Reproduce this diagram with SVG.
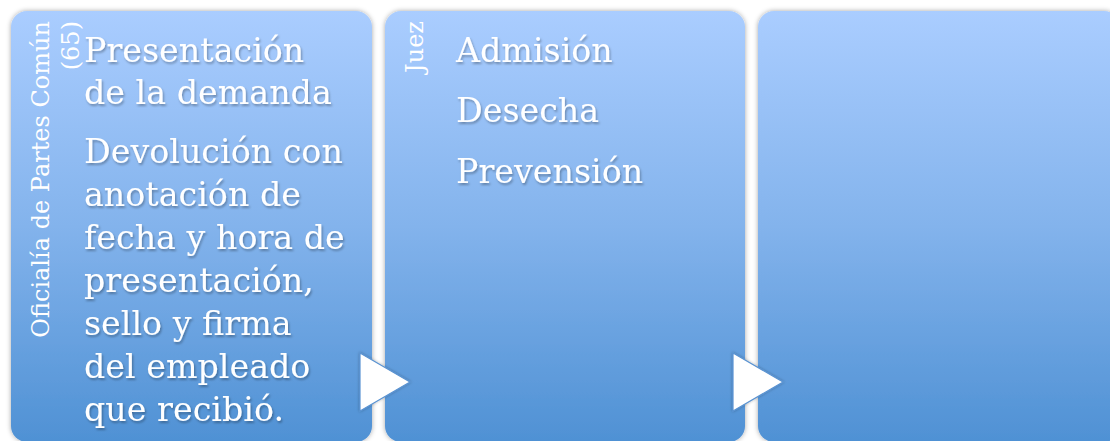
<svg xmlns="http://www.w3.org/2000/svg" width="1110" height="441" viewBox="0 0 1110 441">
  <defs>
    <linearGradient id="boxGrad" x1="0" y1="0" x2="0" y2="1">
      <stop offset="0" stop-color="#aacdff"/>
      <stop offset="0.5" stop-color="#83b3ec"/>
      <stop offset="1" stop-color="#4f91d4"/>
    </linearGradient>
    <filter id="boxShadow" x="-5%" y="-5%" width="110%" height="110%">
      <feDropShadow dx="0" dy="0" stdDeviation="2.5" flood-color="#000" flood-opacity="0.35"/>
    </filter>
    <filter id="textShadow" x="-10%" y="-20%" width="120%" height="150%">
      <feDropShadow dx="1.2" dy="2" stdDeviation="1.3" flood-color="#000" flood-opacity="0.3"/>
    </filter>
    <filter id="arrowShadow" x="-20%" y="-20%" width="140%" height="140%">
      <feDropShadow dx="0" dy="0" stdDeviation="1.5" flood-color="#000" flood-opacity="0.3"/>
    </filter>
  </defs>
  <style>
    .box { fill: url(#boxGrad); filter: url(#boxShadow); }
    .main { font-family: "DejaVu Serif", "Liberation Serif", serif; font-size: 33.3px; fill: #ffffff; filter: url(#textShadow); }
    .side { font-family: "DejaVu Serif", "Liberation Serif", serif; font-size: 24px; fill: #ffffff; }
    .arrow { fill: #ffffff; stroke: #5a93d2; stroke-width: 1.2; filter: url(#arrowShadow); }
  </style>
  <rect width="1110" height="441" fill="#ffffff"/>

  <g id="node1">
    <rect class="box" x="11" y="11" width="361" height="431" rx="16" ry="16"/>
    <g transform="translate(48.5,21) rotate(-90)">
      <text class="side" x="0" y="0" text-anchor="end">Oficialía de Partes Común</text>
      <text class="side" x="0" y="30" text-anchor="end">(65)</text>
    </g>
    <text class="main" x="84" y="62">Presentación</text>
    <text class="main" x="84" y="104">de la demanda</text>
    <text class="main" x="84" y="163">Devolución con</text>
    <text class="main" x="84" y="206">anotación de</text>
    <text class="main" x="84" y="249">fecha y hora de</text>
    <text class="main" x="84" y="292">presentación,</text>
    <text class="main" x="84" y="335">sello y firma</text>
    <text class="main" x="84" y="378">del empleado</text>
    <text class="main" x="84" y="421">que recibió.</text>
  </g>

  <g id="node2">
    <rect class="box" x="385" y="11" width="360" height="431" rx="16" ry="16"/>
    <g transform="translate(423,21) rotate(-90)">
      <text class="side" x="0" y="0" text-anchor="end">Juez</text>
    </g>
    <text class="main" x="456" y="62">Admisión</text>
    <text class="main" x="456" y="122">Desecha</text>
    <text class="main" x="456" y="183">Prevensión</text>
  </g>

  <g id="node3">
    <rect class="box" x="758" y="11" width="362" height="431" rx="16" ry="16"/>
  </g>

  <g id="connectors">
    <polygon class="arrow" points="360,353 410,382 360,411"/>
    <polygon class="arrow" points="733,353 783,382 733,411"/>
  </g>
</svg>
